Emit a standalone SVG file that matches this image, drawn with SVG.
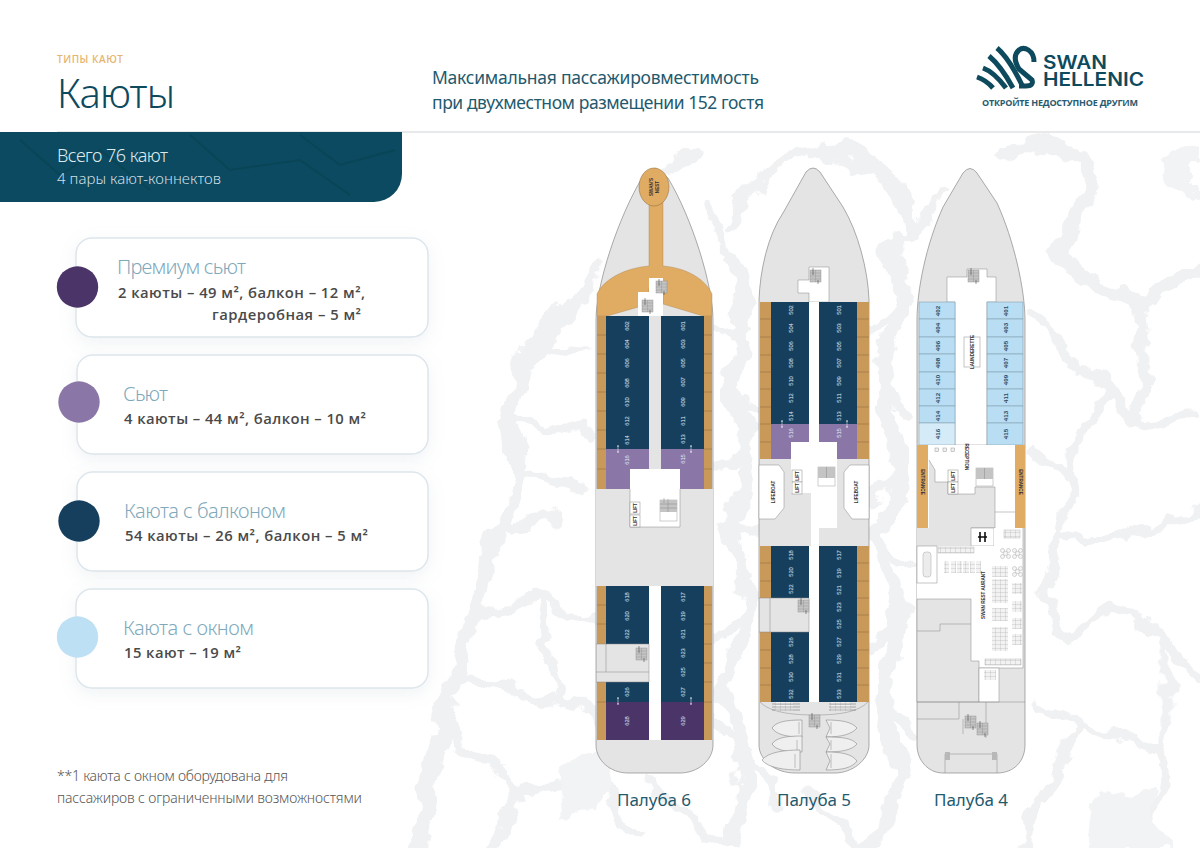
<svg xmlns="http://www.w3.org/2000/svg" width="1200" height="848" viewBox="0 0 1200 848">
<style>
text{font-family:"Open Sans","Noto Sans",sans-serif}
.h{font-family:"Noto Sans","Open Sans",sans-serif;font-weight:400}
.card{fill:#fff;stroke:#dde6ec;stroke-width:1.5}
.ttl{font-size:20px;fill:#7fa9bb;font-weight:300}
.sub{font-size:14.800px;font-weight:600;fill:#4a4a4a}
.v1{fill:none;stroke:#f0f1f3;stroke-width:9;stroke-linejoin:round;stroke-linecap:round}
.v2{fill:none;stroke:#f0f1f3;stroke-width:16;stroke-linejoin:round;stroke-linecap:round}
.hull{fill:#e4e4e4;stroke:#8a8a8a;stroke-width:.7}
.navy{fill:#163f5e}.pur{fill:#8b76a8}.dark{fill:#4a3468}.wood{fill:#c9995a}.or{fill:#e0ab63}.w{fill:#fff}.g{fill:#e4e4e4}
.blue{fill:#b9ddf2;stroke:#7d96a6;stroke-width:.5}
.ln{stroke:#8a6a3a;stroke-width:.5;fill:none}
.gl{stroke:#8a8a8a;stroke-width:.5;fill:none}
.rm{fill:#fff;stroke:#8a8a8a;stroke-width:.5}
.c{font-size:5.800px;fill:#e8eef2;text-anchor:middle;dominant-baseline:central;font-family:"Liberation Sans",sans-serif}
.c text,.b text{font-family:"Liberation Sans",sans-serif}
.k{font-size:4.600px;fill:#333;text-anchor:middle;dominant-baseline:central;font-weight:700;font-family:"Liberation Sans",sans-serif}
.b{fill:#2c4a5e;font-size:6.200px;font-weight:700;text-anchor:middle;dominant-baseline:central}
.dk{font-size:17px;fill:#1f5a6e}
.tb{fill:#ececec;stroke:#a8a8a8;stroke-width:.5}
.boat{fill:#efefef;stroke:#8a8a8a;stroke-width:.6}
.lg{fill:none;stroke:#0d4a5e;stroke-width:5}
</style>
<defs>
<filter id="sh" x="-10%" y="-20%" width="120%" height="150%"><feDropShadow dx="0" dy="5" stdDeviation="8" flood-color="#9fb2c0" flood-opacity=".16"/></filter>
<filter id="rough" filterUnits="userSpaceOnUse" x="0" y="0" width="1200" height="848"><feTurbulence type="fractalNoise" baseFrequency=".025" numOctaves="4" seed="7"/><feDisplacementMap in="SourceGraphic" scale="34" xChannelSelector="R" yChannelSelector="G"/></filter>
<g id="st"><rect width="11" height="12" fill="#c4c4c4" stroke="#888" stroke-width=".4"/><path d="M0,3H11M0,6H11M0,9H11M5.500,0V12" stroke="#999" stroke-width=".5"/><path d="M3,-2V5M8,10V14" stroke="#333" stroke-width=".5"/></g>
<g id="ar"><path d="M0,-3.500V3.500" stroke="#fff" stroke-width=".5"/><path d="M-1,-2.500L0,-4L1,-2.500ZM-1,2.500L0,4L1,2.500Z" fill="#fff"/></g>
<g id="lift"><rect width="10" height="12" class="rm"/><text class="k" transform="translate(5,6) rotate(-90)">LIFT</text></g>
<g id="rt"><g fill="#f6f6f6" stroke="#aaa" stroke-width=".5"><circle cx="2.500" cy="2.500" r="2"/><circle cx="8.500" cy="2.500" r="2"/><circle cx="2.500" cy="8.500" r="2"/><circle cx="8.500" cy="8.500" r="2"/><circle cx="5.500" cy="5.500" r="2.200"/></g></g>
<pattern id="grid" width="5" height="4" patternUnits="userSpaceOnUse"><rect width="5" height="4" fill="#f2f2f2"/><path d="M0,0H5M0,0V4" stroke="#aaa" stroke-width=".6"/></pattern>
</defs>

<rect width="1200" height="848" fill="#fff"/>
<g id="ice" filter="url(#rough)">
<path class="v2" d="M558,322L522,359L507,414L522,473L497,528L471,610L456,679L430,770L420,848"/>
<path class="v1" d="M507,414L590,440M522,473L590,490M560,520L497,528M471,610L540,600L595,620M540,600L560,700L595,720M456,679L520,690L560,700M445,730L520,790L600,780M520,790L500,848M600,780L640,830M558,322L600,270M530,345L590,350"/>
<path class="v2" d="M823,145L895,176L910,235M1032,148L1089,157L1084,203L1058,258L1089,281L1140,304L1200,267"/>
<path class="v1" d="M1038,313L1063,359L1114,386L1130,423L1200,414M1033,450L1073,478L1058,533L1114,542L1200,514M1058,533L1038,588L1068,638L1114,610L1165,633L1200,680M1033,702L1089,725L1058,771L1028,816L1025,848M1089,725L1165,748L1155,816L1140,848M1114,386L1080,430L1073,478M1165,633L1165,748M1140,304L1150,380L1130,423"/>
<path class="v2" d="M735,260L745,330L725,390L750,440L730,520L750,600L725,680L745,760L730,848"/>
<path class="v2" d="M890,240L905,300L880,380L900,460L880,540L905,620L880,700L900,780L870,848"/>
<path class="v1" d="M713,330L735,340M725,390L760,410M713,470L750,440M730,520L760,530M713,640L750,600M713,720L745,760M730,848L650,790M870,340L905,300M880,380L915,420M870,500L900,460M880,540L915,570M870,650L905,620M880,700L915,740M800,790L870,848M780,800L745,760M700,155L670,165M760,180L790,155L823,145M730,230L760,180M700,200L735,260M910,235L890,240M910,235L950,190M1000,155L1032,148"/>
<path d="M1160,160L1200,150V200L1170,190ZM560,770L610,745L600,810L565,820ZM1100,800L1150,790L1170,848H1090Z" fill="#f2f3f5"/>
</g>

<g id="header">
<text x="57" y="63" font-size="10" fill="#e8b56f" font-weight="600" textLength="66">ТИПЫ КАЮТ</text>
<text class="h" x="57" y="108" font-size="40" fill="#0d4a5e" textLength="118" style="font-weight:300">Каюты</text>
<text class="h" x="432" y="84" font-size="17.500" fill="#1f5a6e" textLength="327">Максимальная пассажировместимость</text>
<text class="h" x="432" y="109" font-size="17.500" fill="#1f5a6e" textLength="332">при двухместном размещении 152 гостя</text>
<path d="M57,132H1200" stroke="#cfd3d6" stroke-width="1"/>
</g>
<g id="logo">
<path class="lg" d="M977,77Q986,80 993,88M983,68Q994,72 1006,88M989,56Q1001,66 1013,88M997,48Q1009,58 1023,87"/>
<path class="lg" d="M1034,62C1034,50 1024,46 1019,50C1012,56 1016,64 1019,69L1032,80Q1034,86 1026,86H1019"/>
<text x="1043" y="69" font-size="18" font-weight="600" fill="#0d4a5e" style="font-family:Inter,sans-serif" textLength="64" lengthAdjust="spacingAndGlyphs">SWAN</text>
<text x="1043" y="86" font-size="18" font-weight="600" fill="#0d4a5e" style="font-family:Inter,sans-serif" textLength="101" lengthAdjust="spacingAndGlyphs">HELLENIC</text>
<text x="982" y="106" font-size="9" font-weight="700" fill="#2a5a6e" textLength="156">ОТКРОЙТЕ НЕДОСТУПНОЕ ДРУГИМ</text>
</g>
<g id="band">
<path d="M0,132H402V174A28,28 0 0 1 374,202H0Z" fill="#0b4a60"/>
<path d="M20,140L60,175L100,150L150,190M190,135L230,170L300,160L350,195M300,135L340,165L395,150" fill="none" stroke="#0a4557" stroke-width="2"/>
<text class="h" x="57" y="162" font-size="18" fill="#dfeaee" textLength="111" style="font-weight:300">Всего 76 кают</text>
<text class="h" x="57" y="184" font-size="15" fill="#cfdfe6" textLength="164" style="font-weight:300">4 пары кают-коннектов</text>
</g>

<g id="card-premium"><rect class="card" x="76" y="238" width="352" height="99" rx="16" filter="url(#sh)"/><circle cx="77.500" cy="287" r="20.700" fill="#4a3468"/>
<text class="h ttl" x="117" y="274" textLength="129">Премиум сьют</text><text class="sub" x="118" y="298" textLength="247">2 каюты – 49 м², балкон – 12 м²,</text><text class="sub" x="212" y="320" textLength="149">гардеробная – 5 м²</text></g>
<g id="card-suite"><rect class="card" x="77" y="355" width="351" height="99" rx="16" filter="url(#sh)"/><circle cx="79" cy="402" r="20.700" fill="#8b76a8"/>
<text class="h ttl" x="123" y="401" textLength="45">Сьют</text><text class="sub" x="124" y="424" textLength="242">4 каюты – 44 м², балкон – 10 м²</text></g>
<g id="card-balcony"><rect class="card" x="77" y="472" width="351" height="99" rx="16" filter="url(#sh)"/><circle cx="79" cy="521" r="20.700" fill="#163f5e"/>
<text class="h ttl" x="124" y="518" textLength="162">Каюта с балконом</text><text class="sub" x="125" y="541" textLength="243">54 каюты – 26 м², балкон – 5 м²</text></g>
<g id="card-window"><rect class="card" x="76" y="589" width="352" height="99" rx="16" filter="url(#sh)"/><circle cx="77.500" cy="637" r="20.700" fill="#bde0f5"/>
<text class="h ttl" x="123" y="635" textLength="131">Каюта с окном</text><text class="sub" x="124" y="658" textLength="117">15 кают – 19 м²</text></g>
<g id="note"><text class="h" x="57" y="781" font-size="14" fill="#555" textLength="231" style="font-weight:300">**1 каюта с окном оборудована для</text><text class="h" x="57" y="803" font-size="14" fill="#555" textLength="305" style="font-weight:300">пассажиров с ограниченными возможностями</text></g>

<g id="deck6">
<path class="hull" d="M596,745V320C596,285 618,218 642,178L655,168L668,178C692,218 713,285 713,320V745C713,760 698,773 680,773H628C610,773 596,760 596,745Z"/>
<path class="or" d="M649,200H663V266C688,268 706,280 712,294V316H703L663,304V288H649V304L607,316H597V294C603,280 624,268 649,266Z" stroke="#a98650" stroke-width=".4"/>
<ellipse cx="654" cy="187" rx="15" ry="19" fill="#e0ab63" stroke="#8a6a3a" stroke-width=".5"/>
<text class="k" transform="translate(651,187) rotate(-90)">SWAN'S</text><text class="k" transform="translate(657,187) rotate(-90)">NEST</text>
<path class="w" d="M649,278H663V316H649H638V292H649Z"/>
<use href="#st" x="656" y="281"/><use href="#st" x="642" y="300"/>
<rect class="wood" x="597" y="316" width="9" height="173"/><rect class="wood" x="704" y="316" width="8" height="173"/>
<rect class="navy" x="606" y="316" width="43" height="133"/><rect class="navy" x="661" y="316" width="43" height="133"/>
<path class="pur" d="M606,449H649V469H630V489H606Z"/><path class="pur" d="M661,449H704V489H680V469H661Z"/>
<path class="ln" d="M597,335H606M597,354H606M597,373H606M597,392H606M597,411H606M597,430H606M597,449H606M597,469H606M704,335H712M704,354H712M704,373H712M704,392H712M704,411H712M704,430H712M704,449H712M704,469H712"/>
<path class="g" d="M596,489H630V527H680V489H713V586H596Z"/>
<path class="w" d="M630,469H680V527H630Z"/>
<path class="gl" d="M630,489V527H680V489"/>
<use href="#lift" x="630" y="502"/><use href="#lift" x="630" y="515"/>
<rect x="660" y="500" width="17" height="21" fill="#fff" stroke="#888" stroke-width=".4"/><rect x="660" y="500" width="17" height="12" fill="#c4c4c4"/><path d="M668,499V512M660,504H677M660,508H677M664,498V503" stroke="#888" stroke-width=".5"/>
<rect class="wood" x="597" y="586" width="9" height="58"/><rect class="wood" x="704" y="586" width="8" height="154"/><rect class="wood" x="597" y="682" width="9" height="58"/>
<rect class="navy" x="606" y="586" width="43" height="58"/><rect class="navy" x="606" y="682" width="43" height="20"/><rect class="navy" x="661" y="586" width="43" height="116"/>
<rect class="dark" x="606" y="702" width="43" height="38"/><rect class="dark" x="661" y="702" width="43" height="38"/>
<rect class="w" x="649" y="586" width="12" height="154"/>
<path class="gl" d="M596,644H649V682H596M606,644V672M596,672H649"/>
<use href="#st" x="636" y="648"/>
<path class="ln" d="M597,605H606M597,624H606M597,702H606M704,605H712M704,624H712M704,644H712M704,663H712M704,682H712M704,702H712"/>
<use href="#ar" x="618" y="449"/><use href="#ar" x="691" y="449"/><use href="#ar" x="618" y="701"/><use href="#ar" x="691" y="701"/>
<g class="c"><text transform="translate(627,326) rotate(-90)">602</text><text transform="translate(627,344) rotate(-90)">604</text><text transform="translate(627,363) rotate(-90)">606</text><text transform="translate(627,383) rotate(-90)">608</text><text transform="translate(627,402) rotate(-90)">610</text><text transform="translate(627,421) rotate(-90)">612</text><text transform="translate(627,440) rotate(-90)">614</text><text transform="translate(627,460) rotate(-90)">616</text>
<text transform="translate(683,326) rotate(-90)">601</text><text transform="translate(683,344) rotate(-90)">603</text><text transform="translate(683,363) rotate(-90)">605</text><text transform="translate(683,382) rotate(-90)">607</text><text transform="translate(683,402) rotate(-90)">609</text><text transform="translate(683,421) rotate(-90)">611</text><text transform="translate(683,439) rotate(-90)">613</text><text transform="translate(683,459) rotate(-90)">615</text>
<text transform="translate(627,597) rotate(-90)">618</text><text transform="translate(627,616) rotate(-90)">620</text><text transform="translate(627,634) rotate(-90)">622</text><text transform="translate(627,692) rotate(-90)">626</text><text transform="translate(627,721) rotate(-90)">628</text>
<text transform="translate(683,597) rotate(-90)">617</text><text transform="translate(683,616) rotate(-90)">619</text><text transform="translate(683,634) rotate(-90)">621</text><text transform="translate(683,653) rotate(-90)">623</text><text transform="translate(683,672) rotate(-90)">625</text><text transform="translate(683,692) rotate(-90)">627</text><text transform="translate(683,721) rotate(-90)">629</text></g>
</g>

<g id="deck5">
<path class="hull" d="M759,745V300C760,270 768,235 783,213L806,172Q813,164 820,172L843,207C858,232 868,270 869,300V745C869,760 852,773 835,773H795C775,773 759,760 759,745Z"/>
<path class="rm" d="M809,267H829V302H809V293H798V280H809Z"/><use href="#st" x="810" y="270"/>
<rect class="wood" x="760" y="302" width="11" height="157"/><rect class="wood" x="857" y="302" width="12" height="157"/>
<rect class="navy" x="771" y="302" width="38" height="122"/><rect class="navy" x="819" y="302" width="38" height="122"/>
<path class="pur" d="M771,424H809V442H791V459H771Z"/><path class="pur" d="M819,424H857V459H837V442H819Z"/>
<path class="ln" d="M760,319H771M760,337H771M760,355H771M760,372H771M760,389H771M760,407H771M760,424H771M760,442H771M857,319H869M857,337H869M857,355H869M857,372H869M857,389H869M857,407H869M857,424H869M857,442H869"/>
<path class="w" d="M791,442H837V528H819V546H811V493H791Z"/><rect class="w" x="809" y="302" width="10" height="140"/>
<path class="rm" d="M759,465H779L784,472V508L775,519H759Z"/><path class="rm" d="M869,465H850L844,472V508L852,519H869Z"/>
<text class="k" transform="translate(773,492) rotate(-90)">LIFEBOAT</text><text class="k" transform="translate(856,492) rotate(-90)">LIFEBOAT</text>
<use href="#lift" x="792" y="470"/><use href="#lift" x="792" y="482"/>
<rect x="818" y="467" width="17" height="19" fill="#fff" stroke="#888" stroke-width=".4"/><rect x="818" y="467" width="17" height="11" fill="#c4c4c4"/><path d="M826.500,467V478" stroke="#888" stroke-width=".5"/>
<rect class="wood" x="760" y="546" width="11" height="52"/><rect class="wood" x="760" y="632" width="11" height="70"/><rect class="wood" x="857" y="546" width="12" height="156"/>
<rect class="navy" x="771" y="546" width="38" height="52"/><rect class="navy" x="771" y="632" width="38" height="70"/><rect class="navy" x="819" y="546" width="38" height="156"/>
<rect class="w" x="809" y="546" width="10" height="156"/>
<path class="gl" d="M759,598H809V632H759M770,598V632"/><use href="#st" x="798" y="600"/>
<path class="ln" d="M760,563H771M760,581H771M760,650H771M760,668H771M760,685H771M857,563H869M857,581H869M857,598H869M857,615H869M857,632H869M857,650H869M857,668H869M857,685H869"/>
<use href="#ar" x="782" y="424"/><use href="#ar" x="847" y="424"/>
<path class="gl" d="M760,702C770,712 790,715 815,715C840,715 858,712 868,702"/>
<rect x="775" y="702" width="18" height="9" fill="url(#grid)"/><rect x="830" y="702" width="21" height="9" fill="url(#grid)"/>
<path d="M772,704H800M772,707H800M772,710H800M829,704H856M829,707H856M829,710H856" stroke="#666" stroke-width=".5"/>
<use href="#st" x="809" y="715"/>
<g id="boats"><path class="boat" d="M772,728C776,722 785,720 802,720V737C785,737 776,734 772,728Z"/><path class="boat" d="M772,744C776,738 785,736 802,736V752C785,752 776,750 772,744Z"/><path class="boat" d="M762,760C768,752 785,750 800,750V770C785,770 768,768 762,760Z"/>
<path class="boat" d="M857,728C852,722 842,720 826,720L830,728L826,737C842,737 852,734 857,728Z"/><path class="boat" d="M857,744C852,738 842,737 826,737L830,744L826,752C842,752 852,750 857,744Z"/><path class="boat" d="M857,761C852,754 842,752 826,752L830,761L826,770C842,770 852,768 857,761Z"/>
<path class="gl" d="M799,722V734M797,740V750M795,754V768M831,722V734M831,740V750M831,754V768"/></g>
<g class="c"><text transform="translate(791,310) rotate(-90)">502</text><text transform="translate(791,328) rotate(-90)">504</text><text transform="translate(791,346) rotate(-90)">506</text><text transform="translate(791,363) rotate(-90)">508</text><text transform="translate(791,381) rotate(-90)">510</text><text transform="translate(791,398) rotate(-90)">512</text><text transform="translate(791,416) rotate(-90)">514</text><text transform="translate(791,433) rotate(-90)">516</text>
<text transform="translate(839,310) rotate(-90)">501</text><text transform="translate(839,328) rotate(-90)">503</text><text transform="translate(839,346) rotate(-90)">505</text><text transform="translate(839,363) rotate(-90)">507</text><text transform="translate(839,381) rotate(-90)">509</text><text transform="translate(839,398) rotate(-90)">511</text><text transform="translate(839,416) rotate(-90)">513</text><text transform="translate(839,433) rotate(-90)">515</text>
<text transform="translate(791,555) rotate(-90)">518</text><text transform="translate(791,572) rotate(-90)">520</text><text transform="translate(791,589) rotate(-90)">522</text><text transform="translate(791,642) rotate(-90)">526</text><text transform="translate(791,659) rotate(-90)">528</text><text transform="translate(791,677) rotate(-90)">530</text><text transform="translate(791,694) rotate(-90)">532</text>
<text transform="translate(839,555) rotate(-90)">517</text><text transform="translate(839,573) rotate(-90)">519</text><text transform="translate(839,590) rotate(-90)">521</text><text transform="translate(839,607) rotate(-90)">523</text><text transform="translate(839,624) rotate(-90)">525</text><text transform="translate(839,642) rotate(-90)">527</text><text transform="translate(839,659) rotate(-90)">529</text><text transform="translate(839,677) rotate(-90)">531</text><text transform="translate(839,694) rotate(-90)">533</text></g>
</g>

<g id="deck4">
<path class="hull" d="M917,745V320C917,290 926,245 943,207L963,173Q970,164 977,173L997,203C1014,240 1025,290 1025,320V745C1025,760 1015,773 997,773H943C928,773 917,760 917,745Z"/>
<path class="rm" d="M967,269H987V277H996V302H987V445H955V302H947V277H967Z"/><use href="#st" x="968" y="270"/>
<g class="blue"><rect x="919" y="302" width="36" height="17"/><rect x="919" y="319" width="36" height="18"/><rect x="919" y="337" width="36" height="17"/><rect x="919" y="354" width="36" height="18"/><rect x="919" y="372" width="36" height="17"/><rect x="919" y="389" width="36" height="17"/><rect x="919" y="406" width="36" height="17"/><rect x="919" y="423" width="36" height="22" style="fill:#d6ebf8"/>
<rect x="987" y="302" width="36" height="17"/><rect x="987" y="319" width="36" height="18"/><rect x="987" y="337" width="36" height="17"/><rect x="987" y="354" width="36" height="18"/><rect x="987" y="372" width="36" height="17"/><rect x="987" y="389" width="36" height="17"/><rect x="987" y="406" width="36" height="17"/><rect x="987" y="423" width="36" height="22"/></g>
<rect class="rm" x="964" y="337" width="16" height="30"/><text class="k" transform="translate(972,352) rotate(-90)">LAUNDERETTE</text>
<rect class="w" x="928" y="445" width="87" height="83"/>
<path d="M929,460L935,470V482H948V494H975V487H995V528H971V546H917V528H929Z" class="g"/>
<path class="gl" d="M929,460L935,470V482H948V494H975V487H995V528H971"/>
<rect class="or" x="917" y="445" width="11" height="83"/><rect class="or" x="1015" y="445" width="10" height="83"/>
<text class="k" transform="translate(922.500,482) rotate(90)">ENTRANCE</text><text class="k" transform="translate(1020,482) rotate(90)">ENTRANCE</text>
<text class="k" transform="translate(966,457) rotate(90)">RECEPTION</text>
<g fill="#f0f0f0" stroke="#999" stroke-width=".5"><rect x="935" y="448" width="3.500" height="3.500"/><rect x="943" y="448" width="3.500" height="3.500"/><rect x="951" y="448" width="3.500" height="3.500"/></g>
<use href="#lift" x="948" y="470"/><use href="#lift" x="948" y="482"/>
<rect x="976" y="468" width="17" height="18" fill="#fff" stroke="#888" stroke-width=".4"/><rect x="976" y="468" width="17" height="11" fill="#c4c4c4"/><path d="M984.500,468V479" stroke="#888" stroke-width=".5"/>
<path class="gl" d="M995,512H1015"/>
<rect class="rm" x="971" y="528" width="23" height="18"/><path d="M980,532V542M985,532V542M978,537H987" stroke="#111" stroke-width="1.600"/>
<path class="w" d="M994,528H1023V668H979V661H971V599H917V546H994Z"/><path class="gl" d="M1023,528V668H979"/>
<rect class="rm" x="917" y="546" width="20" height="37"/><rect x="923" y="552" width="8" height="25" rx="3" class="tb"/>
<rect x="938" y="547" width="36" height="6" fill="url(#grid)" stroke="#aaa" stroke-width=".4"/>
<rect x="944" y="561" width="5" height="12" fill="url(#grid)"/><rect x="951" y="561" width="5" height="12" fill="url(#grid)"/><rect x="957" y="561" width="5" height="12" fill="url(#grid)"/><rect x="963" y="561" width="6" height="12" fill="url(#grid)"/><rect x="970" y="561" width="5" height="12" fill="url(#grid)"/><rect x="976" y="561" width="5" height="12" fill="url(#grid)"/>
<rect x="1004" y="530" width="16" height="8" fill="url(#grid)" stroke="#aaa" stroke-width=".4"/>
<use href="#rt" x="1000" y="548"/><use href="#rt" x="1012" y="548"/><use href="#rt" x="1012" y="566"/>
<rect x="992" y="566" width="16" height="11" fill="url(#grid)"/><rect x="992" y="579" width="16" height="24" fill="url(#grid)"/><rect x="992" y="608" width="16" height="13" fill="url(#grid)"/><rect x="992" y="627" width="16" height="24" fill="url(#grid)"/>
<rect x="1012" y="583" width="10" height="11" fill="url(#grid)"/><rect x="1012" y="601" width="10" height="11" fill="url(#grid)"/><rect x="1012" y="618" width="10" height="11" fill="url(#grid)"/><rect x="1012" y="634" width="10" height="11" fill="url(#grid)"/>
<rect x="985" y="659" width="36" height="6" fill="url(#grid)" stroke="#aaa" stroke-width=".4"/>
<text class="k" transform="translate(983,595) rotate(-90)">SWAN REST AURANT</text>
<path class="gl" d="M917,599H971V661H979V702H917Z" style="fill:#e4e4e4"/><path class="gl" d="M917,631H940V624H971"/>
<rect class="rm" x="979" y="668" width="20" height="34"/><rect x="984" y="670" width="12" height="10" fill="url(#grid)"/>
<path class="gl" d="M917,702H1025M917,719H959M959,702V719M986,702V738M963,719V734"/>
<use href="#st" x="965" y="716"/><use href="#st" x="977" y="723"/>
<path class="gl" d="M945,754V773M997,754V773M945,754H997"/>
<rect x="945" y="752" width="5" height="8" fill="#b8b8b8"/><rect x="992" y="752" width="5" height="8" fill="#b8b8b8"/>
<g class="b"><text transform="translate(937,311) rotate(-90)">402</text><text transform="translate(937,328) rotate(-90)">404</text><text transform="translate(937,346) rotate(-90)">406</text><text transform="translate(937,363) rotate(-90)">408</text><text transform="translate(937,380) rotate(-90)">410</text><text transform="translate(937,398) rotate(-90)">412</text><text transform="translate(937,416) rotate(-90)">414</text><text transform="translate(937,434) rotate(-90)">416</text>
<text transform="translate(1005,311) rotate(-90)">401</text><text transform="translate(1005,328) rotate(-90)">403</text><text transform="translate(1005,346) rotate(-90)">405</text><text transform="translate(1005,363) rotate(-90)">407</text><text transform="translate(1005,380) rotate(-90)">409</text><text transform="translate(1005,398) rotate(-90)">411</text><text transform="translate(1005,416) rotate(-90)">413</text><text transform="translate(1005,434) rotate(-90)">415</text></g>
</g>

<g id="deck-labels"><text class="h dk" x="617" y="806" textLength="74">Палуба 6</text><text class="h dk" x="777" y="806" textLength="74">Палуба 5</text><text class="h dk" x="934" y="806" textLength="74">Палуба 4</text></g>
</svg>
